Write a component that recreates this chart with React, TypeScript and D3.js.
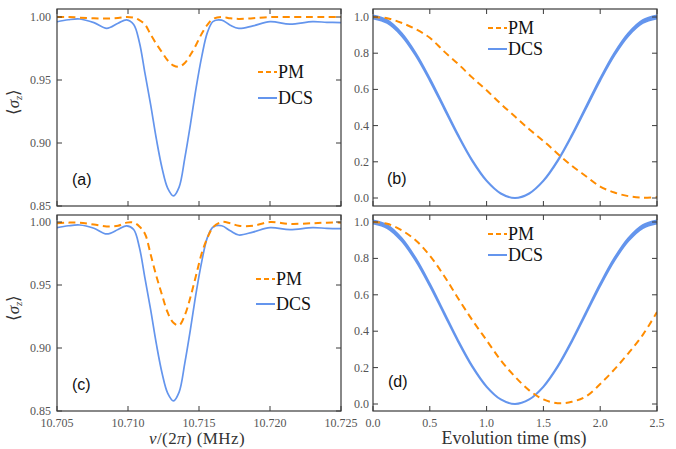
import React from 'react'
import * as d3 from 'd3'

// frequency grid for the two spectra panels (MHz)
const nu = [10.7050, 10.7058, 10.7066, 10.7076, 10.7085, 10.7093, 10.7099, 10.7104, 10.7108, 10.7112,
  10.7116, 10.7120, 10.7124, 10.7128, 10.7132, 10.7136, 10.7140, 10.7144, 10.7148, 10.7152,
  10.7156, 10.7160, 10.7166, 10.7172, 10.7178, 10.7188, 10.7200, 10.7214, 10.7230, 10.7240, 10.7250]

const pmA = [1.000, 1.000, 0.9995, 0.999, 0.9988, 0.9993, 1.000, 0.9995, 0.9975, 0.994,
  0.986, 0.9785, 0.972, 0.9655, 0.9615, 0.9605, 0.9635, 0.970, 0.978, 0.987,
  0.994, 0.9985, 1.000, 0.999, 0.9985, 0.999, 1.000, 1.000, 1.000, 1.000, 1.000]
const dcsA = [0.9962, 0.9978, 0.9984, 0.9955, 0.991, 0.995, 0.9977, 0.994, 0.980, 0.955,
  0.930, 0.903, 0.880, 0.864, 0.858, 0.865, 0.888, 0.915, 0.944, 0.969,
  0.988, 0.9965, 0.9975, 0.9935, 0.991, 0.993, 0.9963, 0.9944, 0.9963, 0.9958, 0.9955]

const pmC = [0.999, 0.9995, 0.9995, 0.998, 0.9965, 0.997, 0.9995, 0.9995, 0.9965, 0.9905,
  0.974, 0.957, 0.942, 0.928, 0.920, 0.918, 0.926, 0.9405, 0.958, 0.9755,
  0.9875, 0.996, 1.000, 0.999, 0.997, 0.997, 1.000, 0.9985, 0.999, 0.9995, 0.9995]
const dcsC = [0.9955, 0.997, 0.9976, 0.995, 0.9905, 0.994, 0.997, 0.994, 0.980, 0.955,
  0.930, 0.903, 0.880, 0.864, 0.858, 0.865, 0.888, 0.915, 0.944, 0.969,
  0.988, 0.996, 0.997, 0.993, 0.9897, 0.992, 0.9955, 0.994, 0.9955, 0.995, 0.9948]

// evolution time grid (ms)
const time = [0, 0.125, 0.25, 0.375, 0.5, 0.625, 0.75, 0.875, 1.0, 1.125, 1.25,
  1.375, 1.5, 1.625, 1.75, 1.875, 2.0, 2.125, 2.25, 2.375, 2.5]
const dcsT = [1.000, 0.975, 0.905, 0.795, 0.655, 0.500, 0.345, 0.205, 0.095, 0.025, 0.000,
  0.025, 0.095, 0.205, 0.345, 0.500, 0.655, 0.795, 0.905, 0.975, 1.000]
const pmB = [1.000, 0.993, 0.968, 0.933, 0.885, 0.810, 0.740, 0.665, 0.595, 0.520, 0.450,
  0.380, 0.315, 0.245, 0.178, 0.120, 0.063, 0.030, 0.010, 0.002, 0.005]
const pmD = [1.000, 0.990, 0.955, 0.900, 0.815, 0.705, 0.580, 0.460, 0.350, 0.240, 0.150,
  0.075, 0.025, 0.004, 0.012, 0.042, 0.110, 0.190, 0.280, 0.380, 0.505]

const nuTicks = [10.705, 10.710, 10.715, 10.720, 10.725]
const sigTicks = [0.85, 0.90, 0.95, 1.00]
const timeTicks = [0, 0.5, 1.0, 1.5, 2.0, 2.5]
const probTicks = [0, 0.2, 0.4, 0.6, 0.8, 1.0]

const ORANGE = '#ff8c00'
const BLUE = '#6495ed'
const FRAME = '#3a3a3a'

function Panel({id, x0, x1, top, y0, y1, xDomain, yDomain, xTicks, yTicks, xFmt, yFmt, showX,
  xs, pm, dcs, thick, legend, label, labelPos, yLabelGap}) {
  const x = d3.scaleLinear().domain(xDomain).range([x0, x1])
  const y = d3.scaleLinear().domain(yDomain).range([y0, y1])
  const frameBottom = id === 'a' || id === 'b' ? 206 : 411
  const pts = xs.map((v, i) => i)
  const line = vals => d3.line().x(i => x(xs[i])).y(i => y(vals[i])).curve(d3.curveCatmullRom.alpha(0.5))(pts)
  // the DCS trace in the time panels is drawn as a narrow band (it's thicker near the maxima)
  const band = d3.area().x(i => x(xs[i]))
    .y0(i => y(dcs[i]) + 1.5 * dcs[i]).y1(i => y(dcs[i]) - 1.5 * dcs[i])
    .curve(d3.curveCatmullRom.alpha(0.5))
  const tl = 5
  return (
    <g>
      <defs>
        <clipPath id={'clip-' + id}>
          <rect x={x0} y={top} width={x1 - x0} height={frameBottom - top} />
        </clipPath>
      </defs>
      <g clipPath={`url(#clip-${id})`}>
        {thick
          ? <path d={band(pts)} fill={BLUE} stroke={BLUE} strokeWidth={2} />
          : <path d={line(dcs)} fill='none' stroke={BLUE} strokeWidth={1.7} />}
        <path d={line(pm)} fill='none' stroke={ORANGE} strokeWidth={2} strokeDasharray='7,4.5' />
      </g>
      <rect x={x0} y={top} width={x1 - x0} height={frameBottom - top} fill='none' stroke={FRAME} strokeWidth={1.2} />
      {xTicks.map(t => (
        <g key={'x' + t}>
          <line x1={x(t)} x2={x(t)} y1={frameBottom} y2={frameBottom - tl} stroke={FRAME} />
          <line x1={x(t)} x2={x(t)} y1={top} y2={top + tl} stroke={FRAME} />
          {showX && <text x={x(t)} y={427} textAnchor='middle' fontFamily='Liberation Serif' fontSize={12} fill='#555'>{xFmt(t)}</text>}
        </g>
      ))}
      {yTicks.map(t => (
        <g key={'y' + t}>
          <line x1={x0} x2={x0 + tl} y1={y(t)} y2={y(t)} stroke={FRAME} />
          <line x1={x1} x2={x1 - tl} y1={y(t)} y2={y(t)} stroke={FRAME} />
          <text x={x0 - yLabelGap} y={y(t) + 4} textAnchor='end' fontFamily='Liberation Serif' fontSize={12} fill='#555'>{yFmt(t)}</text>
        </g>
      ))}
      <line x1={legend.x} x2={legend.x + 19} y1={legend.y1} y2={legend.y1} stroke={ORANGE} strokeWidth={2} strokeDasharray='5,3' />
      <text x={legend.x + 20} y={legend.y1 + 6} fontFamily='Liberation Serif' fontSize={18} fill='#111'>PM</text>
      <line x1={legend.x} x2={legend.x + 19} y1={legend.y2} y2={legend.y2} stroke={BLUE} strokeWidth={2} />
      <text x={legend.x + 20} y={legend.y2 + 6} fontFamily='Liberation Serif' fontSize={18} fill='#111'>DCS</text>
      <text x={labelPos[0]} y={labelPos[1]} fontFamily='Liberation Sans' fontSize={16} fill='#111'>{label}</text>
    </g>
  )
}

function SigmaLabel({cx, cy}) {
  return (
    <text transform={`translate(${cx},${cy}) rotate(-90)`} textAnchor='middle' fontFamily='Liberation Serif' fontSize={17} fill='#333'>
      ⟨<tspan fontStyle='italic'>σ</tspan><tspan fontStyle='italic' fontSize={11} dy='3'>z</tspan><tspan dy='-3'>⟩</tspan>
    </text>
  )
}

export default function App() {
  const f3 = d => d3.format('.3f')(d)
  const f2 = d => d3.format('.2f')(d)
  const f1 = d => d3.format('.1f')(d)
  return (
    <svg width={676} height={449} fontFamily='Liberation Serif' style={{position: 'absolute', left: 0, top: 0, background: '#fff'}}>
      <Panel id='a' x0={57} x1={341} top={9} y0={206} y1={17} xDomain={[10.705, 10.725]} yDomain={[0.85, 1.0]}
        xTicks={nuTicks} yTicks={sigTicks} xFmt={f3} yFmt={f2} showX={false} xs={nu} pm={pmA} dcs={dcsA}
        thick={false} legend={{x: 258, y1: 72, y2: 98}} label='(a)' labelPos={[72, 185]} yLabelGap={6} />
      <Panel id='b' x0={373} x1={657} top={9} y0={198} y1={17} xDomain={[0, 2.5]} yDomain={[0, 1]}
        xTicks={timeTicks} yTicks={probTicks} xFmt={f1} yFmt={f1} showX={false} xs={time} pm={pmB} dcs={dcsT}
        thick={true} legend={{x: 488, y1: 28, y2: 49}} label='(b)' labelPos={[387, 184]} yLabelGap={4} />
      <Panel id='c' x0={57} x1={341} top={215} y0={411} y1={222} xDomain={[10.705, 10.725]} yDomain={[0.85, 1.0]}
        xTicks={nuTicks} yTicks={sigTicks} xFmt={f3} yFmt={f2} showX={true} xs={nu} pm={pmC} dcs={dcsC}
        thick={false} legend={{x: 256, y1: 279, y2: 304}} label='(c)' labelPos={[72, 390]} yLabelGap={6} />
      <Panel id='d' x0={373} x1={657} top={215} y0={404} y1={222} xDomain={[0, 2.5]} yDomain={[0, 1]}
        xTicks={timeTicks} yTicks={probTicks} xFmt={f1} yFmt={f1} showX={true} xs={time} pm={pmD} dcs={dcsT}
        thick={true} legend={{x: 488, y1: 234, y2: 255}} label='(d)' labelPos={[388, 387]} yLabelGap={4} />
      <SigmaLabel cx={19} cy={102} />
      <SigmaLabel cx={19} cy={308} />
      <text x={197} y={444} textAnchor='middle' fontFamily='Liberation Serif' fontSize={17} letterSpacing={0.4} fill='#333'>
        <tspan fontStyle='italic'>ν</tspan>/(2<tspan fontStyle='italic'>π</tspan>) (MHz)
      </text>
      <text x={514} y={444} textAnchor='middle' fontFamily='Liberation Serif' fontSize={18} fill='#333'>Evolution time (ms)</text>
    </svg>
  )
}
